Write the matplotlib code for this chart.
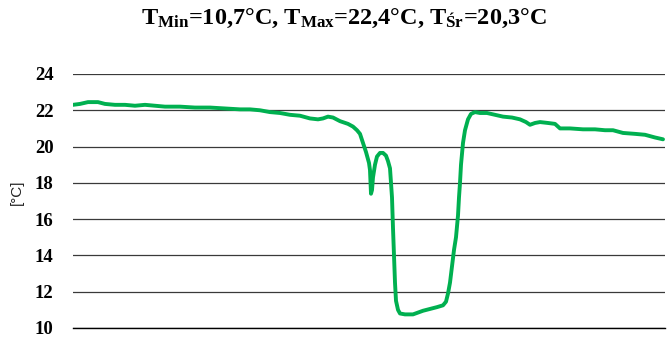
import matplotlib
matplotlib.use("Agg")
import matplotlib.pyplot as plt
import numpy as np

# Sample positions (time index) and temperature values
t = [0, 7, 15, 25, 32, 42, 52, 62, 72, 82, 92, 107, 122, 137, 152, 167, 177, 187, 197,
     207, 217, 227, 237, 245, 250, 255, 260, 267, 275, 280, 284, 287, 290, 293, 296, 297,
     298, 299, 300, 302, 304, 307, 310, 313, 315, 317, 318, 319, 320, 321, 322, 323, 325,
     327, 332, 340, 345, 350, 357, 364, 370, 373, 375, 377, 379, 381, 383, 385, 386, 387,
     388, 390, 392, 395, 398, 402, 407, 414, 422, 430, 439, 447, 453, 457, 462, 467, 475,
     482, 487, 497, 510, 522, 532, 540, 550, 562, 572, 582, 590]
temp = [22.3, 22.35, 22.45, 22.45, 22.35, 22.3, 22.3, 22.25, 22.3, 22.25, 22.2, 22.2,
        22.15, 22.15, 22.1, 22.05, 22.05, 22.0, 21.9, 21.85, 21.75, 21.7, 21.55, 21.5,
        21.55, 21.65, 21.6, 21.4, 21.25, 21.1, 20.9, 20.7, 20.2, 19.7, 19.1, 18.7, 17.4,
        17.6, 18.3, 19.0, 19.45, 19.65, 19.65, 19.5, 19.2, 18.8, 18.0, 17.2, 15.5, 14.0,
        12.5, 11.5, 11.0, 10.8, 10.75, 10.75, 10.85, 10.95, 11.05, 11.15, 11.25, 11.45,
        11.9, 12.5, 13.4, 14.3, 15.0, 16.2, 17.2, 18.0, 19.0, 20.2, 20.9, 21.5, 21.8,
        21.9, 21.85, 21.85, 21.75, 21.65, 21.6, 21.5, 21.35, 21.2, 21.3, 21.35, 21.3,
        21.25, 21.0, 21.0, 20.95, 20.95, 20.9, 20.9, 20.75, 20.7, 20.65, 20.5, 20.4]
yticks = [10, 12, 14, 16, 18, 20, 22, 24]
title = r"T$_{\mathbf{Min}}$=10,7°C, T$_{\mathbf{Max}}$=22,4°C, T$_{\mathbf{Śr}}$=20,3°C"
ylabel = "[°C]"

plt.rcParams["mathtext.fontset"] = "custom"
plt.rcParams["mathtext.rm"] = "Liberation Serif:bold"
plt.rcParams["mathtext.bf"] = "Liberation Serif:bold"
plt.rcParams["mathtext.it"] = "Liberation Serif:bold"

fig = plt.figure(figsize=(6.72, 3.38), dpi=100)
ax = fig.add_axes([0.1086, 0.0296, 0.881, 0.7515])

ax.plot(t, temp, color="#00B050", lw=2.8, solid_joinstyle="round", solid_capstyle="round")

ax.set_xlim(0, 592)
ax.set_ylim(10, 24)
ax.set_yticks(yticks)
ax.set_yticklabels([str(v) for v in yticks], fontfamily="Liberation Serif",
                   fontweight="bold", fontsize=13.5)
ax.tick_params(axis="y", length=0, pad=14)
ax.set_xticks([])
for s in ["top", "right", "left"]:
    ax.spines[s].set_visible(False)
ax.spines["bottom"].set_color("black")
ax.spines["bottom"].set_linewidth(1.0)
ax.grid(axis="y", color="#3a3a3a", lw=0.9)
ax.set_axisbelow(True)

fig.text(0.511, 0.945, title, ha="center", va="center", fontfamily="Liberation Serif",
         fontweight="bold", fontsize=17.5)
fig.text(0.025, 0.43, ylabel, rotation=90, ha="center", va="center",
         fontfamily="Liberation Sans", fontsize=11, color="#222222")

fig.savefig("out.png", dpi=100)
